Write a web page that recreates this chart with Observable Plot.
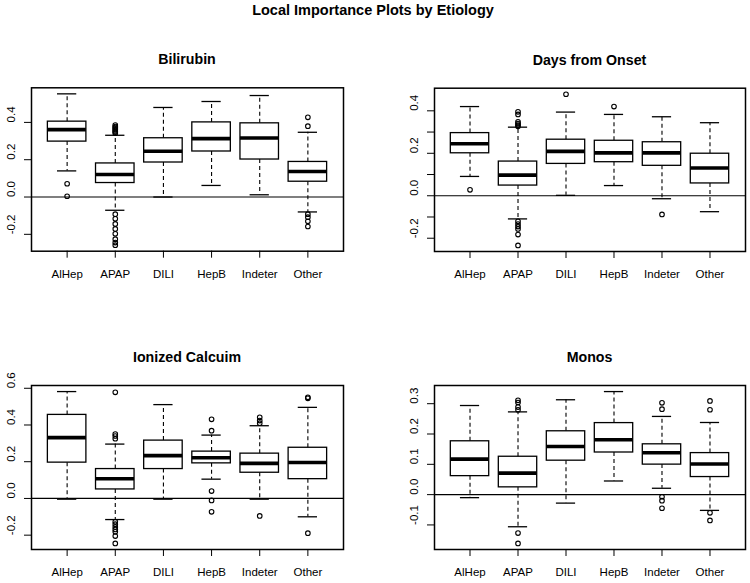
<!DOCTYPE html>
<html>
<head>
<meta charset="utf-8">
<script src="https://cdn.jsdelivr.net/npm/d3@7"></script>
<script src="https://cdn.jsdelivr.net/npm/@observablehq/plot@0.6"></script>
<style>
  html, body { margin: 0; padding: 0; background: #fff; }
  #root { position: relative; width: 750px; height: 583px; overflow: hidden; background: #fff;
          font-family: "Liberation Sans", Arial, Helvetica, sans-serif; color: #000; }
  .ttl { position: absolute; text-align: center; font-weight: bold; line-height: 1; white-space: nowrap; }
  .pnl { position: absolute; }
  .pnl svg { display: block; overflow: visible; }
</style>
</head>
<body>
<div id="root"></div>
<script>
// ---------- data ----------
const mainTitle = "Local Importance Plots by Etiology";
const categories = ["AlHep", "APAP", "DILI", "HepB", "Indeter", "Other"];
const categoryPositions = [1, 2, 3, 4, 5, 6];

// Bilirubin
const biliUpper  = [0.553, 0.331, 0.480, 0.512, 0.544, 0.347];
const biliQ3     = [0.404, 0.180, 0.315, 0.400, 0.395, 0.188];
const biliMedian = [0.361, 0.121, 0.245, 0.313, 0.316, 0.137];
const biliQ1     = [0.297, 0.075, 0.185, 0.244, 0.201, 0.082];
const biliLower  = [0.140, -0.071, 0.000, 0.062, 0.012, -0.080];
const biliOutliers = [
  [0.071, 0.004],
  [0.386, 0.378, 0.372, 0.366, 0.360, 0.354, 0.348, 0.342,
   -0.092, -0.117, -0.144, -0.171, -0.197, -0.226, -0.244, -0.258],
  [], [], [],
  [0.427, 0.380, -0.092, -0.108, -0.130, -0.158]
];
const biliTicks = [-0.2, 0.0, 0.2, 0.4];
const biliTickLabels = [-0.2, 0.0, 0.2, 0.4];

// Days from Onset
const daysUpper  = [0.420, 0.323, 0.394, 0.383, 0.372, 0.344];
const daysQ3     = [0.295, 0.161, 0.264, 0.259, 0.252, 0.198];
const daysMedian = [0.245, 0.097, 0.209, 0.202, 0.202, 0.131];
const daysQ1     = [0.200, 0.048, 0.150, 0.158, 0.141, 0.058];
const daysLower  = [0.091, -0.109, 0.002, 0.048, -0.014, -0.075];
const daysOutliers = [
  [0.028],
  [0.395, 0.383, 0.348, 0.340, 0.333, 0.327, -0.120, -0.133, -0.145, -0.156, -0.183, -0.234],
  [0.478],
  [0.420],
  [-0.088],
  []
];
const daysTicks = [-0.2, -0.1, 0.0, 0.1, 0.2, 0.3, 0.4];
const daysTickLabels = [-0.2, 0.0, 0.2, 0.4];

// Ionized Calcuim
const caUpper  = [0.582, 0.296, 0.511, 0.345, 0.396, 0.496];
const caQ3     = [0.455, 0.160, 0.315, 0.255, 0.244, 0.276];
const caMedian = [0.331, 0.107, 0.233, 0.222, 0.191, 0.196];
const caQ1     = [0.195, 0.049, 0.160, 0.191, 0.140, 0.105];
const caLower  = [-0.004, -0.115, -0.004, 0.105, -0.004, -0.100];
const caOutliers = [
  [],
  [0.578, 0.351, 0.340, 0.325, -0.127, -0.140, -0.155, -0.169, -0.182, -0.205, -0.245],
  [],
  [0.431, 0.369, 0.040, -0.011, -0.073],
  [0.442, 0.424, 0.410, -0.095],
  [0.551, 0.545, -0.189]
];
const caTicks = [-0.2, 0.0, 0.2, 0.4, 0.6];
const caTickLabels = [-0.2, 0.0, 0.2, 0.4, 0.6];

// Monos
const monoUpper  = [0.294, 0.273, 0.313, 0.340, 0.258, 0.238];
const monoQ3     = [0.176, 0.125, 0.209, 0.236, 0.166, 0.137];
const monoMedian = [0.117, 0.071, 0.159, 0.181, 0.138, 0.101];
const monoQ1     = [0.061, 0.024, 0.112, 0.139, 0.099, 0.058];
const monoLower  = [-0.010, -0.106, -0.028, 0.045, 0.021, -0.052];
const monoOutliers = [
  [],
  [0.311, 0.304, 0.289, 0.280, -0.127, -0.161],
  [], [],
  [0.303, 0.282, -0.007, -0.020, -0.045],
  [0.309, 0.280, -0.060, -0.085]
];
const monoTicks = [-0.1, 0.0, 0.1, 0.2, 0.3];
const monoTickLabels = [-0.1, 0.0, 0.1, 0.2, 0.3];

// ---------- layout ----------
const FONT = '"Liberation Sans", Arial, Helvetica, sans-serif';
const panels = [
  { title: "Bilirubin", upper: biliUpper, q3: biliQ3, median: biliMedian, q1: biliQ1, lower: biliLower,
    outliers: biliOutliers, ticks: biliTicks, labels: biliTickLabels,
    left: 0, top: 70, height: 220, mt: 17.3, mb: 39.3, ml: 31, mr: 32, titleBase: 64 },
  { title: "Days from Onset", upper: daysUpper, q3: daysQ3, median: daysMedian, q1: daysQ1, lower: daysLower,
    outliers: daysOutliers, ticks: daysTicks, labels: daysTickLabels,
    left: 375, top: 70, height: 220, mt: 17.7, mb: 39, ml: 59, mr: 5, titleBase: 65 },
  { title: "Ionized Calcuim", upper: caUpper, q3: caQ3, median: caMedian, q1: caQ1, lower: caLower,
    outliers: caOutliers, ticks: caTicks, labels: caTickLabels,
    left: 0, top: 360, height: 223, mt: 25, mb: 34, ml: 31, mr: 32, titleBase: 362 },
  { title: "Monos", upper: monoUpper, q3: monoQ3, median: monoMedian, q1: monoQ1, lower: monoLower,
    outliers: monoOutliers, ticks: monoTicks, labels: monoTickLabels,
    left: 375, top: 360, height: 223, mt: 25, mb: 34, ml: 59, mr: 5, titleBase: 362 }
];

const root = document.getElementById("root");

function addTitle(text, size, centerX, width, baseline) {
  const d = document.createElement("div");
  d.className = "ttl";
  d.textContent = text;
  d.style.fontSize = size + "px";
  d.style.left = (centerX - width / 2) + "px";
  d.style.width = width + "px";
  d.style.top = (baseline - 0.8465 * size) + "px";
  root.appendChild(d);
}

addTitle(mainTitle, 14.5, 373, 400, 15);

function makePanel(p) {
  const rows = categories.map((c, k) => ({
    i: categoryPositions[k], lo: p.lower[k], q1: p.q1[k], med: p.median[k], q3: p.q3[k], hi: p.upper[k]
  }));
  const outs = p.outliers.flatMap((arr, k) => arr.map(v => ({ i: categoryPositions[k], v })));
  const all = [...p.lower, ...p.upper, ...outs.map(d => d.v)];
  const lo = d3.min(all), hi = d3.max(all), pad = (hi - lo) * 0.04;
  const xlo = d3.min(categoryPositions) - 0.5, xhi = d3.max(categoryPositions) + 0.5, xpad = (xhi - xlo) * 0.04;

  return Plot.plot({
    width: 375,
    height: p.height,
    marginTop: p.mt, marginBottom: p.mb, marginLeft: p.ml, marginRight: p.mr,
    x: { type: "linear", domain: [xlo - xpad, xhi + xpad], axis: null, label: null },
    y: { type: "linear", domain: [lo - pad, hi + pad], axis: null, label: null },
    style: { fontFamily: FONT, fontSize: "11.5px", color: "black", background: "white", overflow: "visible" },
    marks: [
      Plot.ruleX(rows, { x: "i", y1: "q3", y2: "hi", stroke: "black", strokeWidth: 1.1, strokeDasharray: "4,3" }),
      Plot.ruleX(rows, { x: "i", y1: "q1", y2: "lo", stroke: "black", strokeWidth: 1.1, strokeDasharray: "4,3" }),
      Plot.ruleY(rows, { y: "hi", x1: d => d.i - 0.2, x2: d => d.i + 0.2, stroke: "black", strokeWidth: 1.3 }),
      Plot.ruleY(rows, { y: "lo", x1: d => d.i - 0.2, x2: d => d.i + 0.2, stroke: "black", strokeWidth: 1.3 }),
      Plot.rect(rows, { x1: d => d.i - 0.4, x2: d => d.i + 0.4, y1: "q1", y2: "q3", fill: "white", stroke: "black", strokeWidth: 1.3 }),
      Plot.ruleY(rows, { y: "med", x1: d => d.i - 0.4, x2: d => d.i + 0.4, stroke: "black", strokeWidth: 3.6 }),
      Plot.dot(outs, { x: "i", y: "v", r: 2.3, stroke: "black", strokeWidth: 1.1, fill: "none" }),
      Plot.ruleY([0], { stroke: "black", strokeWidth: 1.2 }),
      Plot.frame({ stroke: "black", strokeWidth: 1.5 }),
      Plot.axisY(p.ticks, { tickSize: 7, tickFormat: () => "", stroke: "black", label: null }),
      Plot.text(p.labels, { y: d => d, text: d => d.toFixed(1), frameAnchor: "left", dx: -20, rotate: -90,
                            fontSize: 11.5, fill: "black" }),
      Plot.axisX(categoryPositions, { tickFormat: i => categories[i - 1], tickSize: 7, tickPadding: 11.4,
                                      fontSize: 11.5, stroke: "black", fill: "black", label: null })
    ]
  });
}

for (const p of panels) {
  const div = document.createElement("div");
  div.className = "pnl";
  div.style.left = p.left + "px";
  div.style.top = p.top + "px";
  div.appendChild(makePanel(p));
  root.appendChild(div);
  const frameLeft = p.left + p.ml, frameRight = p.left + 375 - p.mr;
  addTitle(p.title, 14.2, (frameLeft + frameRight) / 2, 300, p.titleBase);
}
</script>
</body>
</html>
